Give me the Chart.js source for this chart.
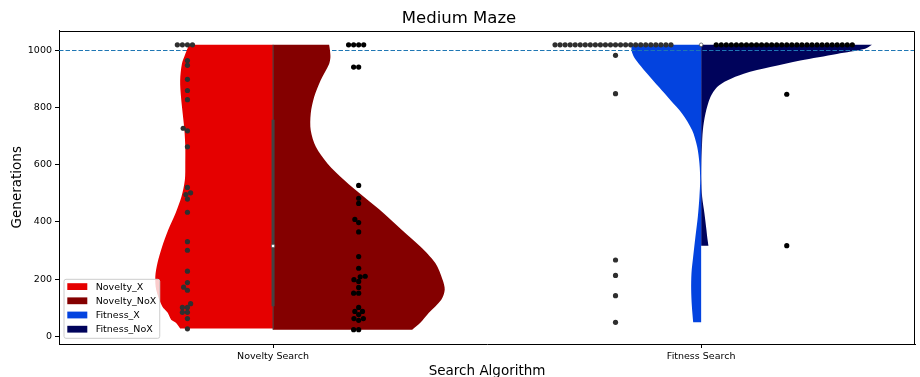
<!DOCTYPE html>
<html>
<head>
<meta charset="utf-8">
<title>Medium Maze</title>
<script src="https://cdn.jsdelivr.net/npm/chart.js@4/dist/chart.umd.min.js"></script>
<style>
  html, body { margin: 0; padding: 0; background: #fff; }
  canvas { display: block; }
</style>
</head>
<body>
<canvas id="chart" width="920" height="377"></canvas>
<script>
// ---- data ---------------------------------------------------------------
const categories = ['Novelty Search', 'Fitness Search'];
const seriesNames = ['Novelty_X', 'Novelty_NoX', 'Fitness_X', 'Fitness_NoX'];
const seriesColors = ['#e50000', '#840000', '#0343df', '#00035b'];
const yTicks = [0, 200, 400, 600, 800, 1000];
const generationLimit = 1000;

// generations needed per run (30 runs per configuration)
const noveltyX = [1020, 1020, 1020, 1020, 965, 948, 899, 860, 828, 728, 719, 663,
  521, 502, 496, 480, 434, 331, 301, 228, 188, 172, 161, 114, 101, 101, 84, 84, 62, 26];
const noveltyNoX = [1020, 1020, 1020, 1020, 942, 942, 528, 483, 465, 409, 398, 365,
  279, 238, 210, 208, 198, 192, 171, 151, 151, 101, 87, 87, 76, 62, 62, 56, 23, 23];
const fitnessX = [1020, 1020, 1020, 1020, 1020, 1020, 1020, 1020, 1020, 1020, 1020, 1020,
  1020, 1020, 1020, 1020, 1020, 1020, 1020, 1020, 1020, 1020, 1020, 1020,
  983, 849, 267, 213, 142, 49];
const fitnessNoX = [1020, 1020, 1020, 1020, 1020, 1020, 1020, 1020, 1020, 1020, 1020, 1020,
  1020, 1020, 1020, 1020, 1020, 1020, 1020, 1020, 1020, 1020, 1020, 1020, 1020, 1020, 1020, 1020,
  847, 317];

// violin half outlines: [generations, half width in category units]
const noveltyXOutline = [[27, 0.217], [47, 0.227], [58, 0.238], [82, 0.246], [105, 0.259],
  [163, 0.273], [209, 0.275], [256, 0.270], [314, 0.259], [372, 0.245], [430, 0.228],
  [488, 0.214], [547, 0.206], [605, 0.205], [663, 0.205], [721, 0.207], [779, 0.211],
  [837, 0.215], [895, 0.217], [953, 0.213], [988, 0.205], [1020, 0.196]];
const noveltyNoXOutline = [[23, 0.325], [47, 0.344], [82, 0.364], [128, 0.393], [163, 0.401],
  [198, 0.396], [256, 0.379], [314, 0.344], [372, 0.301], [430, 0.259], [488, 0.212],
  [547, 0.166], [605, 0.127], [663, 0.100], [721, 0.088], [779, 0.088], [837, 0.096],
  [895, 0.111], [953, 0.131], [976, 0.134], [1000, 0.133], [1020, 0.131]];
const fitnessXOutline = [[49, 0.0186], [105, 0.0217], [163, 0.0233], [221, 0.0226],
  [279, 0.0186], [349, 0.0133], [419, 0.0077], [488, 0.004], [547, 0.0023], [605, 0.004],
  [663, 0.0093], [721, 0.021], [779, 0.0443], [826, 0.0716], [872, 0.0986], [919, 0.1259],
  [953, 0.1452], [977, 0.1569], [1000, 0.1625], [1020, 0.1625]];
const fitnessNoXOutline = [[317, 0.017], [349, 0.014], [372, 0.0124], [430, 0.0077],
  [488, 0.0023], [547, 0.0007], [605, 0.0007], [663, 0.0019], [721, 0.004], [779, 0.01],
  [837, 0.0217], [872, 0.0373], [895, 0.0606], [919, 0.0995], [942, 0.1615], [965, 0.2315],
  [988, 0.317], [1006, 0.383], [1020, 0.399]];

// inner box per algorithm: [whisker low, q1, median, q3, whisker high]
const noveltyBox = [23, 105, 316, 758, 1020];
const fitnessBox = [1020, 1020, 1020, 1020, 1020];

// ---- chart construction -------------------------------------------------
const FONT = '"DejaVu Sans", "Liberation Sans", sans-serif';
Chart.defaults.font.family = FONT;
Chart.defaults.color = '#000';

const groups = [
  { cat: 0, side: -1, values: noveltyX,   outline: noveltyXOutline,   color: seriesColors[0], dot: '#2f2f2f' },
  { cat: 0, side:  1, values: noveltyNoX, outline: noveltyNoXOutline, color: seriesColors[1], dot: '#000000' },
  { cat: 1, side: -1, values: fitnessX,   outline: fitnessXOutline,   color: seriesColors[2], dot: '#2f2f2f' },
  { cat: 1, side:  1, values: fitnessNoX, outline: fitnessNoXOutline, color: seriesColors[3], dot: '#000000' }
];
const boxes = [{ cat: 0, stats: noveltyBox }, { cat: 1, stats: fitnessBox }];
const DODGE = 0.2;

// closed half-violin polygon: centre line -> outline -> centre line
function halfViolin(g) {
  const o = g.outline;
  const pts = [];
  const first = o[0], last = o[o.length - 1];
  pts.push({ x: g.cat, y: first[0] }, { x: g.cat, y: first[0] });
  pts.push({ x: g.cat + g.side * first[1], y: first[0] });
  o.forEach(([v, w]) => pts.push({ x: g.cat + g.side * w, y: v }));
  pts.push({ x: g.cat + g.side * last[1], y: last[0] });
  pts.push({ x: g.cat, y: last[0] }, { x: g.cat, y: last[0] });
  return pts;
}

const datasets = [];

groups.forEach((g, i) => {
  datasets.push({
    label: seriesNames[i],
    data: halfViolin(g),
    showLine: true,
    fill: 'shape',
    backgroundColor: g.color,
    borderColor: g.color,
    borderWidth: 0,
    pointRadius: 0,
    tension: 0.3,
    order: g.cat === 0 ? 3 : 5
  });
});

datasets.push({
  label: 'limit',
  data: [{ x: -0.5, y: generationLimit }, { x: 1.5, y: generationLimit }],
  showLine: true,
  borderColor: '#1f77b4',
  borderWidth: 1,
  borderDash: [4.5, 2],
  pointRadius: 0,
  fill: false,
  order: 4
});

boxes.forEach(b => {
  const [lo, q1, med, q3, hi] = b.stats;
  datasets.push({
    label: 'whisker',
    data: [{ x: b.cat, y: lo }, { x: b.cat, y: hi }],
    showLine: true, borderColor: '#444444', borderWidth: 1, pointRadius: 0, order: 2
  });
  datasets.push({
    label: 'box',
    data: [{ x: b.cat, y: q1 }, { x: b.cat, y: q3 }],
    showLine: true, borderColor: '#444444', borderWidth: 3, pointRadius: 0, order: 2
  });
  datasets.push({
    label: 'median',
    data: [{ x: b.cat, y: med }],
    pointRadius: 1.8, pointBackgroundColor: '#ffffff',
    pointBorderColor: '#555555', pointBorderWidth: 0.8, order: 1
  });
});

groups.forEach(g => {
  g.center = g.cat + g.side * DODGE;
  g.pointsDataset = {
    label: 'runs',
    data: g.values.map(v => ({ x: g.center, y: v })),
    pointRadius: 2.6,
    pointBackgroundColor: g.dot,
    pointBorderWidth: 0,
    order: 0
  };
  datasets.push(g.pointsDataset);
});

// frame on top and right side of the plotting area
const framePlugin = {
  id: 'frame',
  afterDatasetsDraw(chart) {
    const { ctx, chartArea: a } = chart;
    ctx.save();
    ctx.strokeStyle = '#000';
    ctx.lineWidth = 1;
    ctx.beginPath();
    ctx.moveTo(Math.round(a.left) + 0.5, Math.round(a.top) + 0.5);
    ctx.lineTo(Math.round(a.right) - 0.5, Math.round(a.top) + 0.5);
    ctx.lineTo(Math.round(a.right) - 0.5, Math.round(a.bottom) + 0.5);
    ctx.stroke();
    ctx.restore();
  }
};

// legend box in the lower left corner of the plotting area
const legendPlugin = {
  id: 'boxLegend',
  afterDraw(chart) {
    const { ctx, chartArea: a } = chart;
    const fontSize = 9.5;
    ctx.save();
    ctx.font = fontSize + 'px ' + FONT;
    const textW = Math.max(...seriesNames.map(n => ctx.measureText(n).width));
    const pitch = 14.2;
    const h = 59;
    const left = a.left + 5;
    const top = a.bottom - 5.7 - h;
    const w = 31.7 + textW + 3.5;
    const r = 2;
    ctx.beginPath();
    ctx.moveTo(left + r, top);
    ctx.arcTo(left + w, top, left + w, top + h, r);
    ctx.arcTo(left + w, top + h, left, top + h, r);
    ctx.arcTo(left, top + h, left, top, r);
    ctx.arcTo(left, top, left + w, top, r);
    ctx.closePath();
    ctx.fillStyle = 'rgba(255,255,255,0.8)';
    ctx.fill();
    ctx.strokeStyle = '#cccccc';
    ctx.lineWidth = 1;
    ctx.stroke();
    ctx.textBaseline = 'middle';
    ctx.textAlign = 'left';
    seriesNames.forEach((name, i) => {
      const cy = top + 7.4 + i * pitch;
      ctx.fillStyle = seriesColors[i];
      ctx.fillRect(left + 3.3, cy - 3.5, 20, 6.8);
      ctx.fillStyle = '#000';
      ctx.fillText(name, left + 31.7, cy + 0.5);
    });
    ctx.restore();
  }
};

const chart = new Chart(document.getElementById('chart'), {
  type: 'scatter',
  data: { datasets },
  options: {
    responsive: false,
    devicePixelRatio: 1,
    animation: false,
    events: [],
    layout: { padding: { left: 0, right: 2, top: 0, bottom: 0 } },
    plugins: {
      legend: { display: false },
      tooltip: { enabled: false },
      title: {
        display: true,
        text: 'Medium Maze',
        color: '#000',
        font: { size: 16.5, weight: 'normal', family: FONT },
        padding: { top: 9.1, bottom: 1.6 }
      }
    },
    scales: {
      x: {
        type: 'linear',
        min: -0.5,
        max: 1.5,
        afterBuildTicks: s => { s.ticks = categories.map((_, i) => ({ value: i })); },
        afterFit: s => { s.height = 33; },
        ticks: {
          font: { size: 9.5 },
          color: '#000',
          padding: 3,
          maxRotation: 0,
          callback: v => categories[v]
        },
        grid: { drawOnChartArea: false, drawTicks: true, tickLength: 4, tickColor: '#000', tickWidth: 1 },
        border: { display: true, color: '#000', width: 1 },
        title: {
          display: true,
          text: 'Search Algorithm',
          color: '#000',
          font: { size: 13.5 },
          padding: { top: 0, bottom: -2.5 }
        }
      },
      y: {
        type: 'linear',
        min: -27,
        max: 1070,
        afterBuildTicks: s => { s.ticks = yTicks.map(v => ({ value: v })); },
        afterFit: s => { s.width = 59; },
        ticks: { font: { size: 9.5 }, color: '#000', padding: 3, callback: v => String(v) },
        grid: { drawOnChartArea: false, drawTicks: true, tickLength: 4, tickColor: '#000', tickWidth: 1 },
        border: { display: true, color: '#000', width: 1 },
        title: {
          display: true,
          text: 'Generations',
          color: '#000',
          font: { size: 13.5 },
          padding: { top: 9.4, bottom: 0 }
        }
      }
    }
  },
  plugins: [framePlugin, legendPlugin]
});

// beeswarm layout of the run markers, computed in pixel space
const SWARM_R = 2.4;
function swarmOffsets(values, yScale, r) {
  const d = 2 * r;
  const pts = values.map((v, i) => ({ i, y: yScale.getPixelForValue(v) }));
  pts.sort((a, b) => b.y - a.y);
  const placed = [];
  const out = new Array(values.length).fill(0);
  pts.forEach(p => {
    const nb = placed.filter(q => Math.abs(q.y - p.y) < d);
    const cands = [0];
    nb.forEach(q => {
      const dy = p.y - q.y;
      const dx = Math.sqrt(Math.max(d * d - dy * dy, 0)) * 1.05;
      cands.push(q.x - dx, q.x + dx);
    });
    const ordered = cands.map((c, k) => ({ c, k }))
      .sort((a, b) => (Math.abs(a.c) - Math.abs(b.c)) || (a.k - b.k));
    let x = 0;
    for (const { c } of ordered) {
      if (nb.every(q => (q.x - c) ** 2 + (q.y - p.y) ** 2 >= d * d * 0.999)) { x = c; break; }
    }
    placed.push({ x, y: p.y });
    out[p.i] = x;
  });
  return out;
}

(function layoutSwarms() {
  const xs = chart.scales.x, ys = chart.scales.y;
  const pxPerUnit = xs.getPixelForValue(1) - xs.getPixelForValue(0);
  groups.forEach(g => {
    const offs = swarmOffsets(g.values, ys, SWARM_R);
    g.pointsDataset.data = g.values.map((v, i) => ({ x: g.center + offs[i] / pxPerUnit, y: v }));
  });
  chart.update('none');
})();
</script>
</body>
</html>
